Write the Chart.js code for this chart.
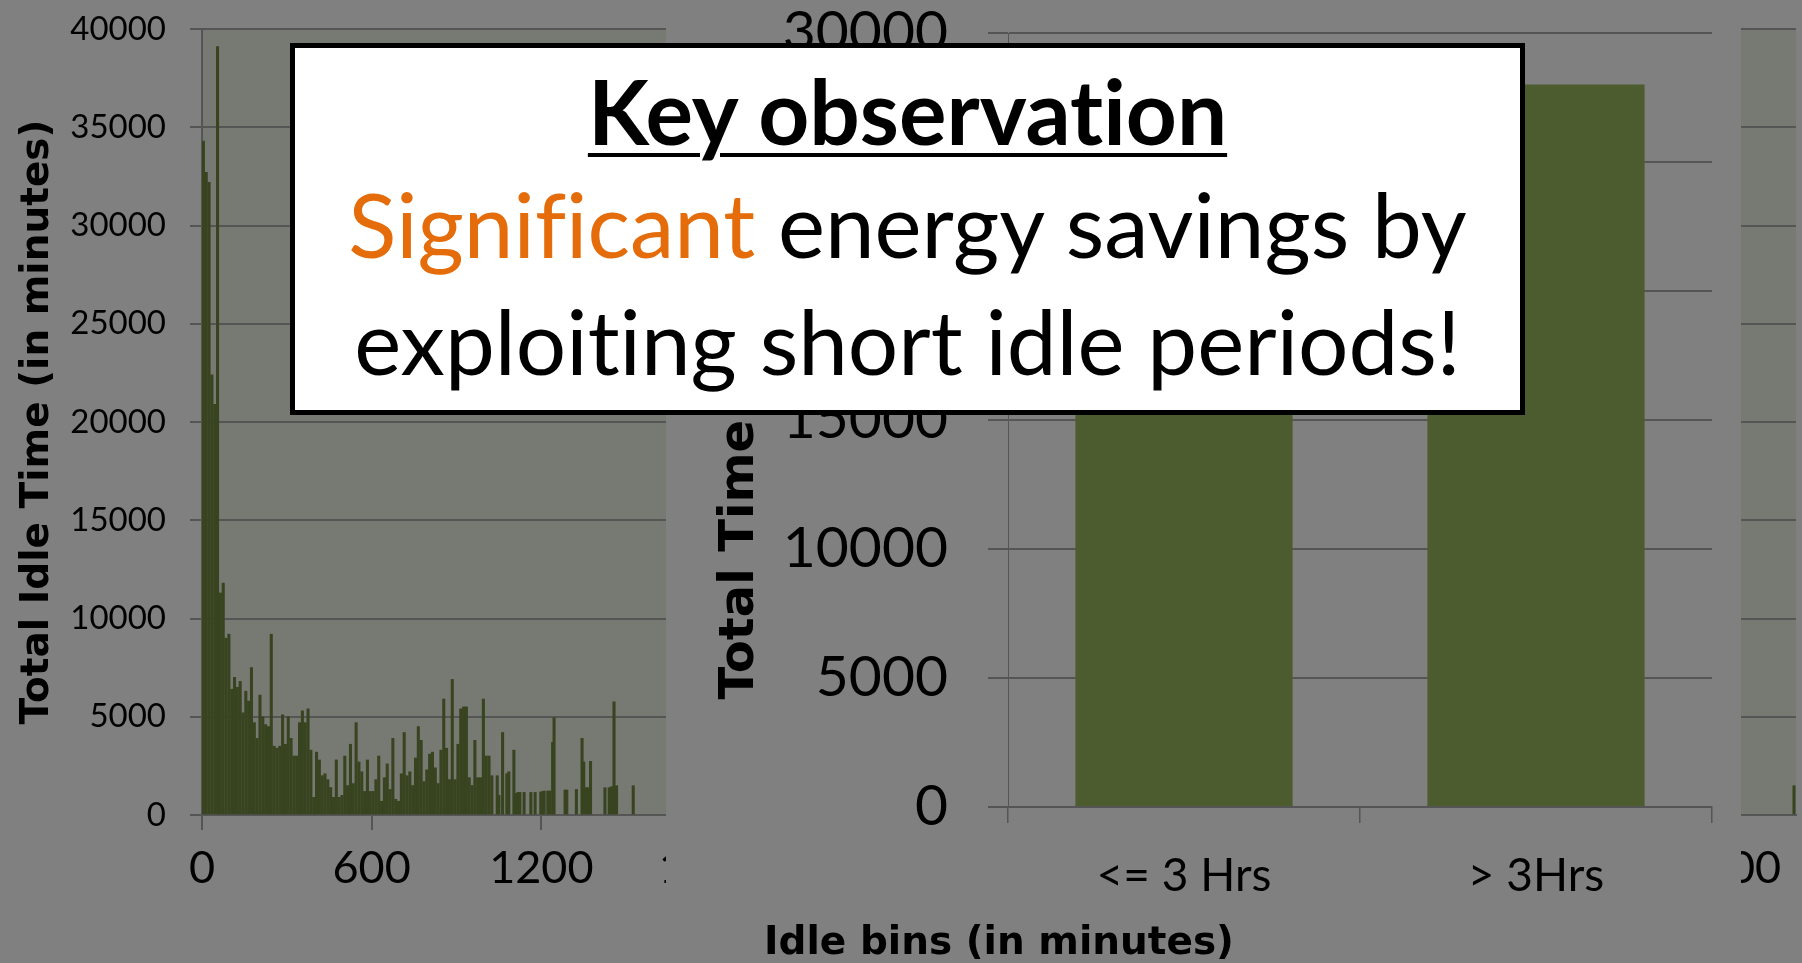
<!DOCTYPE html>
<html>
<head>
<meta charset="utf-8">
<script src="https://cdn.jsdelivr.net/npm/chart.js@4.4.1/dist/chart.umd.min.js"></script>
<style>
html,body{margin:0;padding:0;background:#808080;width:1802px;height:963px;overflow:hidden;}
#wrapMain{position:absolute;left:0;top:0;width:1802px;height:963px;}
#wrapMid{position:absolute;left:666px;top:0;width:1075px;height:910px;background:#808080;}
#box{position:absolute;left:290px;top:43px;width:1235px;height:372px;box-sizing:border-box;border:5px solid #000;background:#fff;}
.line{position:absolute;left:290px;width:1235px;text-align:center;white-space:nowrap;font-family:Lato,"Open Sans",sans-serif;color:#000;line-height:1;font-variant-ligatures:none;}
#l1{top:66px;font-size:89px;font-weight:bold;text-decoration:underline;text-decoration-thickness:4px;text-underline-offset:8px;}
#l2{top:179px;font-size:89px;}
#l3{top:296px;font-size:89px;}
.orange{color:#e46c0a;}
</style>
</head>
<body>
<div id="wrapMain"><canvas id="mainChart"></canvas></div>
<div id="wrapMid"><canvas id="midChart"></canvas></div>
<div id="box"></div>
<div class="line" id="l1">Key observation</div>
<div class="line" id="l2"><span class="orange">Significant</span> energy savings by</div>
<div class="line" id="l3">exploiting short idle periods!</div>
<script>
// ---------- Data: histogram of idle periods (left/background chart) ----------
const idleBinMinutes = [
  5,15,25,35,45,55,65,75,85,95,
  105,115,125,135,145,155,165,175,185,195,
  205,215,225,235,245,255,265,275,285,295,
  305,315,325,335,345,355,365,375,385,395,
  405,415,425,435,445,455,465,475,485,495,
  505,515,525,535,545,555,565,575,585,595,
  605,615,625,635,645,655,665,675,685,695,
  705,715,725,735,745,755,765,775,785,795,
  805,815,825,835,845,855,865,875,885,895,
  905,915,925,935,945,955,965,975,985,995,
  1005,1015,1025,
  1044,1050,1063,1078,1085,1103,1110,1118,1124,1139,
  1163,1178,1198,1204,1210,1223,1230,1240,1245,1284,
  1290,1324,1344,1350,1360,1366,1374,1425,1440,1448,
  1457,1466,1525,5630
];
const idleTotalMinutes = [
  34300,32700,32200,22400,20900,39100,11300,11800,9000,9200,
  6400,7000,6500,6800,5200,6300,5800,7500,4700,3900,
  6100,5000,4600,4500,9200,3500,3400,3500,5100,3600,
  5000,3900,3000,3000,4700,5300,4700,5400,3300,900,
  3200,2800,2000,2100,1800,1400,900,2800,900,1000,
  3000,1500,3600,1600,4700,2700,2200,1200,2800,1200,
  1200,1800,3000,700,1900,2600,1300,3900,800,700,
  2100,4200,2000,2200,1500,2900,4500,3800,1700,2300,
  3100,3200,2400,1600,3300,5900,3400,1800,6900,1800,
  3600,5400,5500,5500,1900,1500,3800,1900,1900,5900,
  3000,3000,2000,2000,1000,
  4200,2100,2200,3300,1100,1150,1150,1150,1150,1150,
  1170,1190,1220,1220,1220,3700,4950,1270,1270,1300,
  3900,2700,1390,1390,2730,1390,1390,1440,5760,1490,
  1490,1490,1540,5650
];
const mainYTicks = [0,5000,10000,15000,20000,25000,30000,35000,40000];
const mainXTicks = [0,600,1200,1800,2400,3000,3600,4200,4800,5400];

// ---------- Data: two-bin summary (overlaid chart) ----------
const binCategories = ['<= 3 Hrs', '> 3Hrs'];
const binTotalTime = [24000, 28000];
const midYTicks = [0,5000,10000,15000,20000,25000,30000];

const GRID = '#555555';

const plotBg = {
  id: 'plotBg',
  beforeDraw(chart, args, opts) {
    if (!opts.color) return;
    const {ctx, chartArea: a} = chart;
    ctx.save();
    ctx.fillStyle = opts.color;
    ctx.fillRect(a.left, a.top, a.right - a.left, a.bottom - a.top);
    ctx.restore();
  }
};

const plain = v => String(v);
function fixY(width) {
  return s => { s.width = width; s.paddingTop = 0; s.paddingBottom = 0; };
}
function fixX(height) {
  return s => { s.height = height; s.paddingLeft = 0; s.paddingRight = 0; };
}

function build() {
  Chart.defaults.animation = false;
  Chart.defaults.color = '#000';

  new Chart(document.getElementById('mainChart'), {
    type: 'bar',
    data: {
      datasets: [{
        data: idleBinMinutes.map((m, i) => ({x: m, y: idleTotalMinutes[i]})),
        backgroundColor: '#38431f',
        borderWidth: 0,
        barThickness: 2.4
      }]
    },
    options: {
      responsive: true,
      maintainAspectRatio: false,
      layout: {padding: {left: 0, right: 6, top: 29, bottom: 0}},
      plugins: {legend: {display: false}, tooltip: {enabled: false}, plotBg: {color: '#777a72'}},
      scales: {
        x: {
          type: 'linear',
          min: 0, max: 5637,
          offset: false,
          afterFit: fixX(148),
          afterBuildTicks: s => { s.ticks = mainXTicks.map(v => ({value: v})); },
          ticks: {autoSkip: false, maxRotation: 0, callback: plain,
                  font: {family: 'Lato', size: 45}, color: '#000', padding: 11},
          grid: {drawOnChartArea: false, drawTicks: true, tickLength: 15, color: GRID, lineWidth: 2, offset: false},
          border: {display: true, color: GRID, width: 2},
          title: {display: true, text: 'Idle bins (in minutes)', color: '#000',
                  font: {family: 'DejaVu Sans', size: 39, weight: 'bold', lineHeight: 1.0}, padding: {top: 0, bottom: 0}}
        },
        y: {
          min: 0, max: 40000,
          afterFit: fixY(202),
          afterBuildTicks: s => { s.ticks = mainYTicks.map(v => ({value: v})); },
          ticks: {font: {family: 'Lato', size: 33}, color: '#000', padding: 24, callback: plain},
          grid: {color: GRID, lineWidth: 2, tickLength: 12},
          border: {display: true, color: GRID, width: 2},
          title: {display: true, text: 'Total Idle Time (in minutes)', color: '#000',
                  font: {family: 'DejaVu Sans', size: 39, weight: 'bold'}, padding: {top: 14, bottom: 0}}
        }
      }
    },
    plugins: [plotBg]
  });

  new Chart(document.getElementById('midChart'), {
    type: 'bar',
    data: {
      labels: binCategories,
      datasets: [{
        data: binTotalTime,
        backgroundColor: '#4d5c2e',
        borderWidth: 0,
        categoryPercentage: 1,
        barPercentage: 0.617
      }]
    },
    options: {
      responsive: true,
      maintainAspectRatio: false,
      layout: {padding: {left: 0, right: 29, top: 33, bottom: 0}},
      plugins: {legend: {display: false}, tooltip: {enabled: false}},
      scales: {
        x: {
          afterFit: fixX(103),
          ticks: {font: {family: 'Lato', size: 46}, color: '#000', padding: 26, maxRotation: 0},
          grid: {drawOnChartArea: false, drawTicks: true, tickLength: 16, color: GRID, lineWidth: 1.5, offset: true},
          border: {display: true, color: GRID, width: 1.5}
        },
        y: {
          min: 0, max: 30000,
          afterFit: fixY(342),
          afterBuildTicks: s => { s.ticks = midYTicks.map(v => ({value: v})); },
          ticks: {font: {family: 'Lato', size: 57}, color: '#000', padding: 40, callback: plain},
          grid: {color: GRID, lineWidth: 2, tickLength: 20},
          border: {display: true, color: GRID, width: 1},
          title: {display: true, text: 'Total Time (minutes)', color: '#000',
                  font: {family: 'DejaVu Sans', size: 48, weight: 'bold'}, padding: {top: 46, bottom: 0}}
        }
      }
    }
  });
}

Promise.all([
  document.fonts.load('45px Lato'),
  document.fonts.load('bold 40px "DejaVu Sans"'),
  document.fonts.load('bold 86px Lato')
]).then(build, build);
</script>
</body>
</html>
